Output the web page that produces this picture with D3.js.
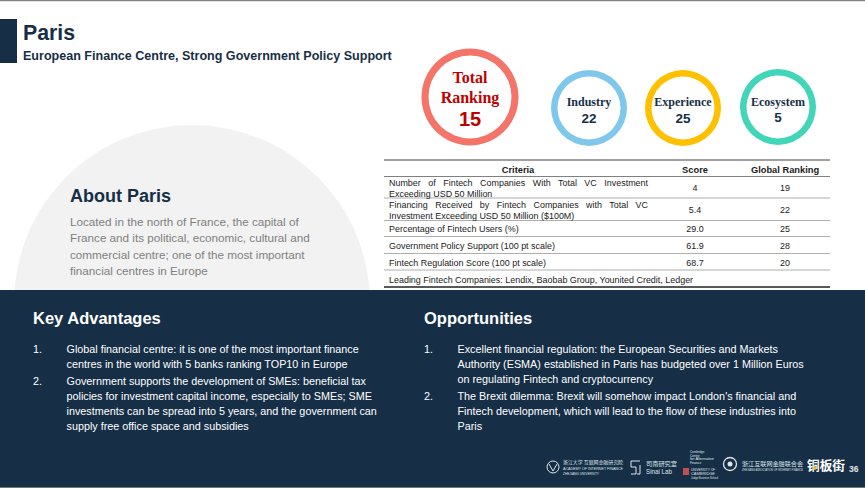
<!DOCTYPE html>
<html>
<head>
<meta charset="utf-8">
<style>
    html, body { margin: 0; padding: 0; background: #fff; overflow: hidden; }
    svg { display: block; font-family: "Liberation Sans", Arial, sans-serif; }
    .ring-label { font-family: "Liberation Serif", serif; font-weight: bold; text-anchor: middle; }
    .ring-value { font-weight: bold; text-anchor: middle; }
    .cell { font-size: 8.95px; fill: #1a1a1a; }
    .head { font-size: 9.3px; font-weight: bold; fill: #1a1a1a; text-anchor: middle; }
    .panel-title { font-size: 16.5px; font-weight: bold; fill: #fff; }
    .panel-text { font-size: 10.8px; fill: #fff; }
    .logo { fill: #dfe5ea; }
    .cjk { font-family: "Noto Sans CJK SC", sans-serif; }
</style>
</head>
<body>
<svg width="865" height="488"></svg>
<script src="https://d3js.org/d3.v7.min.js"></script>
<script>
    const ringNames = ["Total", "Industry", "Experience", "Ecosystem"];
    const ringValues = [15, 22, 25, 5];
    const ringColors = ["#f47469", "#7fc8ec", "#ffc000", "#41d6b8"];

    const tableHeaders = ["Criteria", "Score", "Global Ranking"];
    const criteria = [
        ["Number of Fintech Companies With Total VC Investment", "Exceeding USD 50 Million"],
        ["Financing Received by Fintech Companies with Total VC", "Investment Exceeding USD 50 Million ($100M)"],
        ["Percentage of Fintech Users (%)"],
        ["Government Policy Support (100 pt scale)"],
        ["Fintech Regulation Score (100 pt scale)"]
    ];
    const scores = ["4", "5.4", "29.0", "61.9", "68.7"];
    const globalRanks = ["19", "22", "25", "28", "20"];
    const leading = "Leading Fintech Companies: Lendix, Baobab Group, Younited Credit, Ledger";

    const aboutLines = [
        "Located in the north of France, the capital of",
        "France and its political, economic, cultural and",
        "commercial centre; one of the most important",
        "financial centres in Europe"
    ];
    const advantages = [
        ["Global financial centre: it is one of the most important finance",
         "centres in the world with 5 banks ranking TOP10 in Europe"],
        ["Government supports the development of SMEs: beneficial tax",
         "policies for investment capital income, especially to SMEs; SME",
         "investments can be spread into 5 years, and the government can",
         "supply free office space and subsidies"]
    ];
    const opportunities = [
        ["Excellent financial regulation: the European Securities and Markets",
         "Authority (ESMA) established in Paris has budgeted over 1 Million Euros",
         "on regulating Fintech and cryptocurrency"],
        ["The Brexit dilemma: Brexit will somehow impact London's financial and",
         "Fintech development, which will lead to the flow of these industries into",
         "Paris"]
    ];

    const navy = "#162f47";
    const svg = d3.select("svg");

    // page frame
    svg.append("rect").attr("width", 865).attr("height", 1.2).attr("fill", "#808080");
    svg.append("rect").attr("x", 0).attr("y", 19).attr("width", 17).attr("height", 44).attr("fill", navy);
    svg.append("text").attr("x", 23).attr("y", 40).attr("font-size", 21.3).attr("font-weight", "bold").attr("fill", navy).text("Paris");
    svg.append("text").attr("x", 23).attr("y", 60).attr("font-size", 12.55).attr("font-weight", "bold").attr("fill", navy).text("European Finance Centre, Strong Government Policy Support");

    // grey half circle, the navy panel covers the bottom
    svg.append("circle").attr("cx", 192).attr("cy", 303).attr("r", 178).attr("fill", "#f2f2f2");
    svg.append("text").attr("x", 70).attr("y", 202).attr("font-size", 18).attr("font-weight", "bold").attr("fill", navy).text("About Paris");
    svg.append("g").selectAll("text").data(aboutLines).join("text")
        .attr("x", 70).attr("y", (d, i) => 226 + i * 16.3)
        .attr("font-size", 11.7).attr("fill", "#808080").text(d => d);

    // ranking rings
    const arc = d3.arc();
    const ringX = [470, 589, 683, 778];
    const ringY = [97, 108, 108, 107];
    const ringR = [48.5, 38, 38, 38];
    const ringW = [7, 6.5, 6.5, 6.5];
    const ring = svg.append("g").selectAll("g").data(ringNames).join("g")
        .attr("transform", (d, i) => `translate(${ringX[i]},${ringY[i]})`);
    ring.append("path")
        .attr("d", (d, i) => arc({innerRadius: ringR[i] - ringW[i], outerRadius: ringR[i], startAngle: 0, endAngle: 2 * Math.PI}))
        .attr("fill", (d, i) => ringColors[i]);
    ring.each(function (d, i) {
        const g = d3.select(this);
        if (i === 0) {
            g.append("text").attr("class", "ring-label").attr("y", -14).attr("font-size", 16).attr("fill", "#c00000").text("Total");
            g.append("text").attr("class", "ring-label").attr("y", 6).attr("font-size", 16).attr("fill", "#c00000").text("Ranking");
            g.append("text").attr("class", "ring-value").attr("y", 29).attr("font-size", 20).attr("fill", "#c00000").text(ringValues[i]);
        } else {
            g.append("text").attr("class", "ring-label").attr("y", i === 3 ? -1 : -2).attr("font-size", 12).attr("fill", navy).text(d);
            g.append("text").attr("class", "ring-value").attr("y", 15).attr("font-size", 13.5).attr("fill", navy).text(ringValues[i]);
        }
    });

    // table
    const rowLines = [160, 176.5, 198, 220.5, 236.5, 253.5, 270, 287];
    const lineW = [1.6, 1.2, 0.8, 0.8, 0.8, 0.8, 0.8, 1.4];
    svg.append("g").selectAll("line").data(rowLines).join("line")
        .attr("x1", 384).attr("x2", 830).attr("y1", d => d).attr("y2", d => d)
        .attr("stroke", (d, i) => i < 2 ? "#808080" : (i === 7 ? "#222" : "#9a9a9a"))
        .attr("stroke-width", (d, i) => lineW[i]);

    const colX = [518, 695, 785];
    svg.append("g").selectAll("text").data(tableHeaders).join("text")
        .attr("class", "head").attr("x", (d, i) => colX[i]).attr("y", 172.5).text(d => d);

    const rows = svg.append("g");
    criteria.forEach((lines, r) => {
        const top = rowLines[r + 1], bottom = rowLines[r + 2];
        const mid = (top + bottom) / 2 + 0.7;
        lines.forEach((line, k) => {
            const t = rows.append("text").attr("class", "cell").attr("x", 389)
                .attr("y", mid + 3.2 + (k - (lines.length - 1) / 2) * 10.8).text(line);
            // first line of wrapped cells is justified
            if (lines.length > 1 && k === 0) {
                const gaps = line.split(" ").length - 1;
                t.attr("word-spacing", (648 - 389 - t.node().getComputedTextLength()) / gaps);
            }
        });
        rows.append("text").attr("class", "cell").attr("text-anchor", "middle").attr("x", 695).attr("y", mid + 3.2).text(scores[r]);
        rows.append("text").attr("class", "cell").attr("text-anchor", "middle").attr("x", 785).attr("y", mid + 3.2).text(globalRanks[r]);
    });
    rows.append("text").attr("class", "cell").attr("x", 389).attr("y", 282.8).text(leading);

    // navy panel
    svg.append("rect").attr("x", 0).attr("y", 290).attr("width", 865).attr("height", 198).attr("fill", navy);
    svg.append("rect").attr("x", 0).attr("y", 487).attr("width", 865).attr("height", 1).attr("fill", "#777");

    function panel(x, title, items) {
        svg.append("text").attr("class", "panel-title").attr("x", x).attr("y", 324).text(title);
        let y = 353;
        items.forEach((lines, i) => {
            svg.append("text").attr("class", "panel-text").attr("x", x).attr("y", y).text((i + 1) + ".");
            lines.forEach(line => {
                svg.append("text").attr("class", "panel-text").attr("x", x + 33.5).attr("y", y).text(line);
                y += 15;
            });
            y += 1.5;
        });
    }
    panel(33, "Key Advantages", advantages);
    panel(424, "Opportunities", opportunities);

    // partner logos, roughly redrawn
    const logos = svg.append("g");
    function logoText(x, y, size, width, str, cjk) {
        logos.append("text").attr("class", cjk ? "logo cjk" : "logo").attr("x", x).attr("y", y)
            .attr("font-size", size).attr("textLength", width).attr("lengthAdjust", "spacingAndGlyphs").text(str);
    }
    logos.append("circle").attr("cx", 553).attr("cy", 467).attr("r", 6).attr("fill", "none").attr("stroke", "#dfe5ea");
    logos.append("path").attr("d", "M549 464l4 7l4-7").attr("fill", "none").attr("stroke", "#dfe5ea");
    logoText(563, 464, 5, 60, "浙江大学 互联网金融研究院", true);
    logoText(563, 470, 3.4, 60, "ACADEMY OF INTERNET FINANCE");
    logoText(563, 474.5, 2.8, 36, "ZHEJIANG UNIVERSITY");
    logos.append("path").attr("d", "M631 461h9M631 461v6h5v7h-5M640 465v9h-3").attr("fill", "none").attr("stroke", "#dfe5ea").attr("stroke-width", 1);
    logoText(646, 466, 6.2, 31, "司南研究室", true);
    logoText(646, 473.5, 6.5, 26, "Sinai Lab");
    ["Cambridge", "Centre", "for Alternative", "Finance"].forEach((d, i) => {
        logoText(690, 453 + i * 3.5, 3, d.length * 1.6, d);
    });
    logos.append("rect").attr("x", 683).attr("y", 468).attr("width", 6).attr("height", 7).attr("fill", "#c0504d");
    ["UNIVERSITY OF", "CAMBRIDGE", "Judge Business School"].forEach((d, i) => {
        logoText(691, 471 + i * 3.9, 3.4, i === 2 ? 27 : 24, d);
    });
    logos.append("circle").attr("cx", 730).attr("cy", 464).attr("r", 6.5).attr("fill", "none").attr("stroke", "#dfe5ea").attr("stroke-width", 1.3);
    logos.append("circle").attr("cx", 730).attr("cy", 464).attr("r", 2.5).attr("fill", "#dfe5ea");
    logoText(742, 466, 6.1, 61, "浙江互联网金融联合会", true);
    logoText(742, 470.5, 2.8, 61, "ZHEJIANG ASSOCIATION OF INTERNET FINANCE");
    logos.append("text").attr("class", "cjk").attr("x", 807).attr("y", 470).attr("font-size", 12.7).attr("font-weight", "bold").attr("fill", "#fff").text("铜板街");
    logos.append("circle").attr("cx", 815).attr("cy", 468).attr("r", 1.6).attr("fill", "#f5b500");
    logos.append("text").attr("x", 849).attr("y", 472).attr("font-size", 8.5).attr("font-weight", "bold").attr("fill", "#e6e6e6").text("36");
</script>
</body>
</html>
